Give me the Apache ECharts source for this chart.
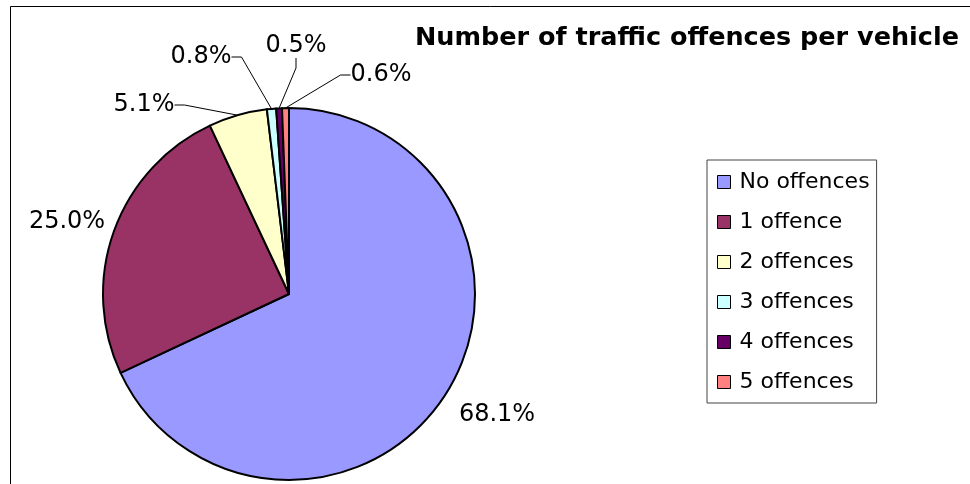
<!DOCTYPE html>
<html>
<head>
<meta charset="utf-8">
<script src="https://cdn.jsdelivr.net/npm/echarts@6/dist/echarts.min.js"></script>
<style>
  html, body { margin: 0; padding: 0; background: #fff; }
  #chart { width: 970px; height: 484px; }
</style>
</head>
<body>
<div id="chart"></div>
<script>
// chart data
var categories = ['No offences', '1 offence', '2 offences', '3 offences', '4 offences', '5 offences'];
var shares = [68.1, 25.0, 5.1, 0.8, 0.5, 0.6];
var colors = ['#9999FF', '#993366', '#FFFFCC', '#CCFFFF', '#660066', '#FF8080'];

// where the percentage labels sit (label centre), same order as categories
var labelSpots = [[497, 415], [67, 222], [144, 105], [201, 57], [296, 46], [381, 75]];

var font = 'DejaVu Sans';

var pieData = categories.map(function (name, i) {
    return {
        name: name,
        value: shares[i],
        itemStyle: { color: colors[i] },
        labelLine: { show: i > 1 }
    };
});

var chart = echarts.init(document.getElementById('chart'));

chart.setOption({
    animation: false,
    backgroundColor: '#fff',
    title: {
        text: 'Number of traffic offences per vehicle',
        left: 415,
        top: 25,
        padding: 0,
        textStyle: { fontFamily: font, fontSize: 25.5, fontWeight: 'bold', color: '#000' }
    },
    legend: {
        orient: 'vertical',
        left: 707,
        top: 160,
        padding: [11, 7, 10, 10],
        borderColor: '#444',
        borderWidth: 1,
        icon: 'rect',
        itemWidth: 13,
        itemHeight: 13,
        itemGap: 18,
        selectedMode: false,
        itemStyle: { borderColor: '#000', borderWidth: 1 },
        textStyle: { fontFamily: font, fontSize: 22, lineHeight: 22, color: '#000', padding: [0, 0, 0, 4] },
        data: categories
    },
    graphic: [{
        type: 'rect',
        shape: { x: 10.5, y: 6.5, width: 980, height: 500 },
        style: { fill: null, stroke: '#000', lineWidth: 1 },
        silent: true
    }],
    series: [{
        type: 'pie',
        center: [289, 294],
        radius: 186,
        startAngle: 90,
        clockwise: true,
        avoidLabelOverlap: false,
        itemStyle: { borderColor: '#000', borderWidth: 2 },
        label: {
            position: 'outside',
            fontFamily: font,
            fontSize: 24,
            color: '#000',
            formatter: function (p) { return p.value.toFixed(1) + '%'; }
        },
        labelLine: {
            length: 10,
            length2: 10,
            lineStyle: { color: '#000', width: 1 }
        },
        labelLayout: function (p) {
            var spot = labelSpots[p.dataIndex];
            return { x: spot[0], y: spot[1], align: 'center', verticalAlign: 'middle' };
        },
        emphasis: { disabled: true },
        data: pieData
    }]
});
</script>
</body>
</html>
